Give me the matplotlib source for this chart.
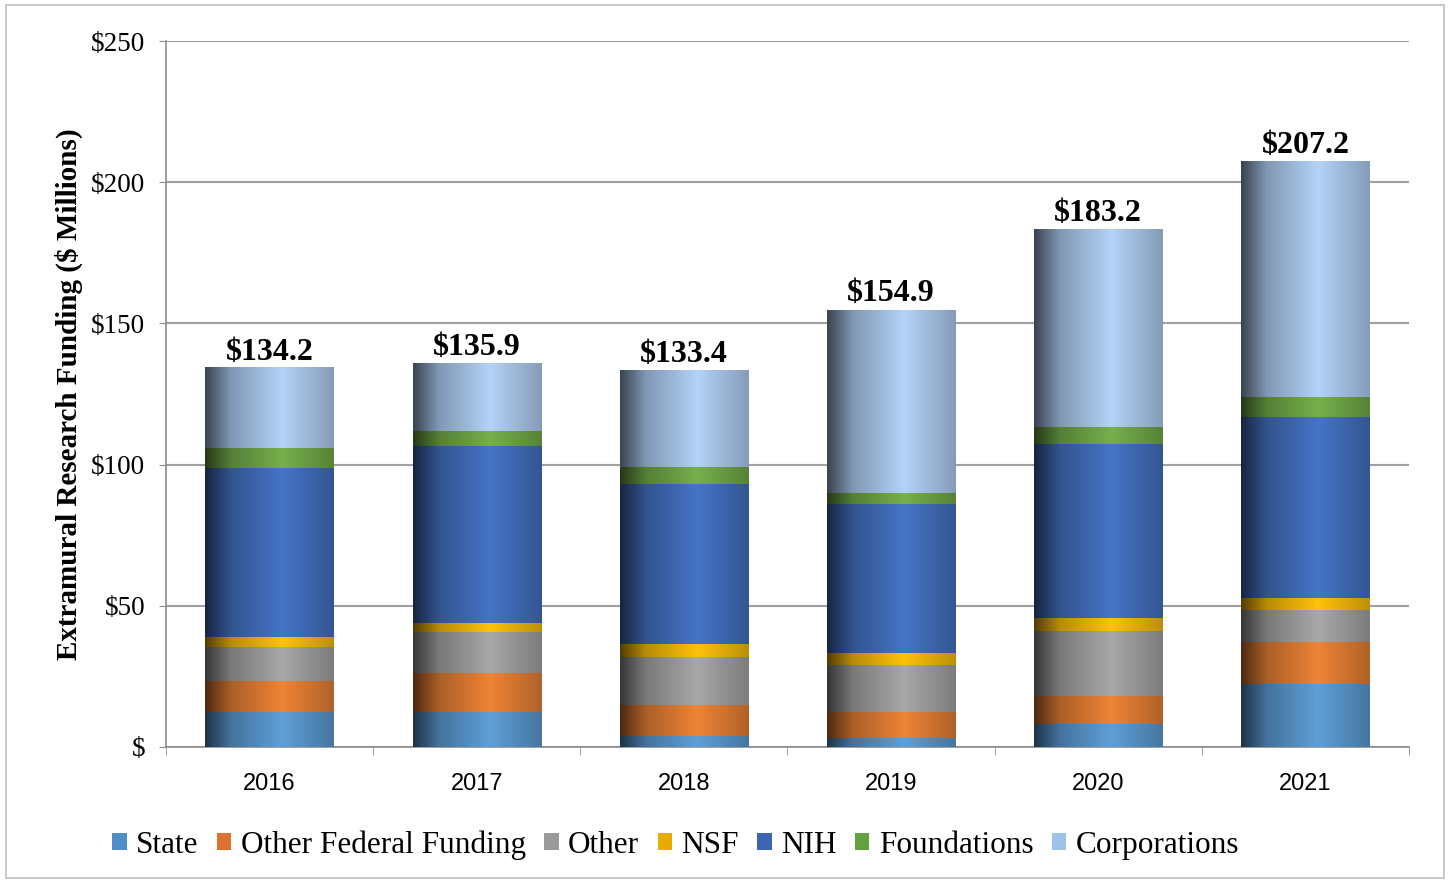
import numpy as np
import matplotlib
matplotlib.use("Agg")
import matplotlib.pyplot as plt
from matplotlib.patches import Patch, Rectangle
from matplotlib.colors import to_rgb

years = ["2016", "2017", "2018", "2019", "2020", "2021"]
totals = [134.2, 135.9, 133.4, 154.9, 183.2, 207.2]

# values, $ millions
state = [12.5, 12.5, 3.8, 3.1, 8.0, 22.3]
other_federal = [10.9, 13.6, 11.0, 9.4, 10.1, 14.9]
other = [11.9, 14.7, 17.0, 16.5, 23.0, 11.3]
nsf = [3.8, 3.2, 4.7, 4.2, 4.6, 4.1]
nih = [59.6, 62.7, 56.6, 52.8, 61.6, 64.3]
foundations = [7.1, 5.2, 6.2, 4.1, 5.9, 7.0]
corporations = [28.4, 24.0, 34.1, 64.8, 70.0, 83.3]

series = [
    ("State", state, "#5f9fd8", "#4f8ec8"),
    ("Other Federal Funding", other_federal, "#ee8436", "#dc7130"),
    ("Other", other, "#a8a8a8", "#9a9a9a"),
    ("NSF", nsf, "#ffc20a", "#e8ac00"),
    ("NIH", nih, "#4674c6", "#3c65b2"),
    ("Foundations", foundations, "#76b04c", "#63a040"),
    ("Corporations", corporations, "#b3d3f9", "#9fc3e8"),
]

plt.rcParams['font.family'] = ['Liberation Serif', 'DejaVu Serif']

fig = plt.figure(figsize=(14.5, 8.82), dpi=100)
ax = fig.add_axes([0.1145, 0.1531, 0.8572, 0.8004])

x = np.arange(len(years))
width = 0.62

# cylinder-like shading across each bar
xs = np.linspace(0, 1, 200)
shade = np.interp(xs, [0, 0.2, 0.6, 1.0], [0.32, 0.72, 1.0, 0.74])

bottom = np.zeros(len(years))
for name, vals, col, _ in series:
    bars = ax.bar(x, vals, width, bottom=bottom, color=col, zorder=2)
    rgb = np.array(to_rgb(col))
    grad = (shade[:, None] * rgb[None, :])[None, :, :]
    for p in bars:
        bx, by = p.get_x(), p.get_y()
        bw, bh = p.get_width(), p.get_height()
        ax.imshow(grad, extent=[bx, bx + bw, by, by + bh], aspect='auto',
                  interpolation='bilinear', zorder=3)
    bottom += np.array(vals)

for xi, t in zip(x, totals):
    ax.annotate(f"${t:.1f}", (xi, t), xytext=(0, 1), textcoords='offset points',
                ha='center', va='bottom', fontsize=23, fontweight='bold')

ax.set_xlim(-0.5, len(years) - 0.5)
ax.set_ylim(0, 250)
ax.set_yticks([0, 50, 100, 150, 200, 250])
ax.set_yticklabels(["$", "$50", "$100", "$150", "$200", "$250"], fontsize=19.5)
ax.set_xticks(x)
ax.set_xticklabels(years, fontsize=17, family='Liberation Sans')
ax.set_xticks(np.arange(-0.5, len(years), 1), minor=True)
ax.tick_params(axis='x', which='major', length=0, pad=19)
ax.tick_params(axis='x', which='minor', length=6, color='#8c8c8c', direction='out')
ax.tick_params(axis='y', length=5, color='#8c8c8c', pad=10)

ax.grid(axis='y', color='#a0a0a0', linewidth=1.5, zorder=0)
ax.set_axisbelow(True)
for s in ['top', 'right']:
    ax.spines[s].set_visible(False)
for s in ['left', 'bottom']:
    ax.spines[s].set_color('#8c8c8c')
    ax.spines[s].set_linewidth(1.2)

ax.set_ylabel("Extramural Research Funding ($ Millions)", fontsize=21,
              fontweight='bold', labelpad=6)

handles = [Patch(facecolor=lc, edgecolor='none', label=n) for n, _, _, lc in series]
fig.legend(handles=handles, loc='center', bbox_to_anchor=(0.466, 0.042), ncol=7,
           frameon=False, fontsize=22.5, handlelength=0.45, handleheight=0.45,
           handletextpad=0.3, columnspacing=0.6)

fig.patches.append(Rectangle((0.004, 0.004), 0.992, 0.99, transform=fig.transFigure,
                             fill=False, edgecolor='#bfbfbf', linewidth=1.2))

fig.savefig("out.png", dpi=100)
